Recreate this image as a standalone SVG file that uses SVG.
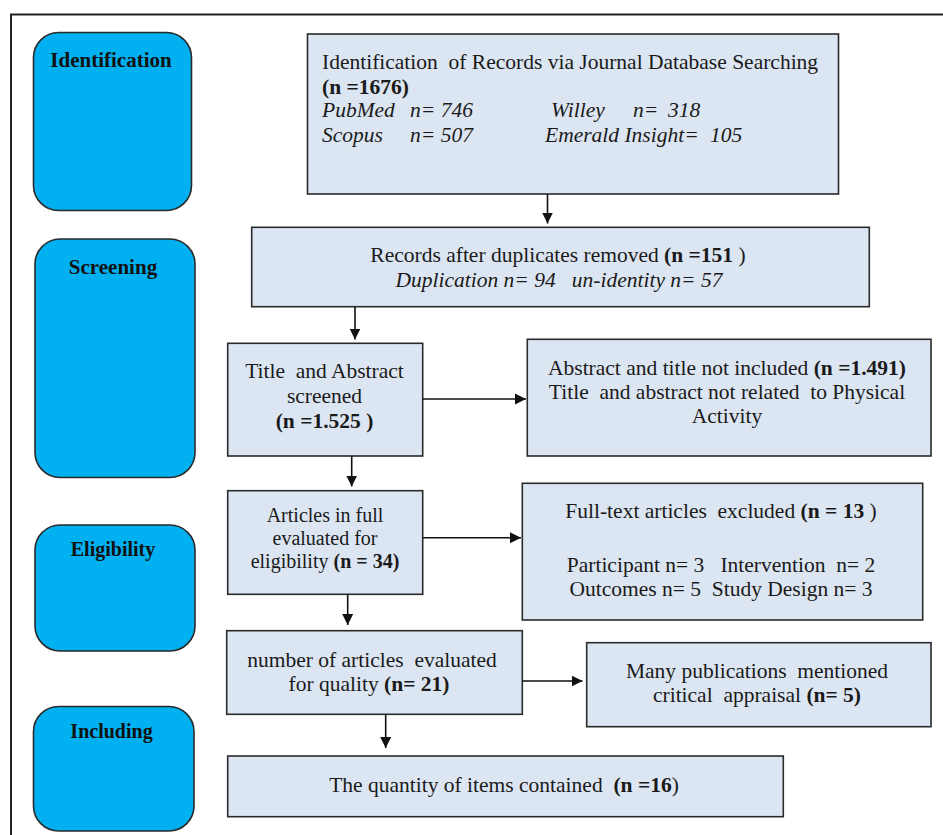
<svg xmlns="http://www.w3.org/2000/svg" width="943" height="835" viewBox="0 0 943 835">
<defs>
<style>
.stage{fill:#00B0F0;stroke:#2a2a2a;stroke-width:1.6}
.box{fill:#DCE6F2;stroke:#2a2a2a;stroke-width:1.6}
.lbl{font-family:"Liberation Serif","Times New Roman",serif;font-size:21px;font-weight:bold;fill:#111;text-anchor:middle}
.t{font-family:"Liberation Serif","Times New Roman",serif;font-size:21.5px;fill:#1a1a1a;white-space:pre}
.c{text-anchor:middle}
.i{font-style:italic}
.b{font-weight:bold}
.conn{stroke:#111;stroke-width:1.6;fill:none;marker-end:url(#ah)}
</style>
<marker id="ah" markerUnits="userSpaceOnUse" markerWidth="12" markerHeight="12" refX="11" refY="6" orient="auto">
<path d="M0,0.5 L11,6 L0,11.5 z" fill="#111"/>
</marker>
</defs>
<rect width="943" height="835" fill="#fff"/>
<path d="M11,835 V14.5 H943" fill="none" stroke="#222" stroke-width="2"/>

<g id="stage-identification">
<rect class="stage" x="33.5" y="32.5" width="158" height="178" rx="25"/>
<text class="lbl" x="111" y="67">Identification</text>
</g>
<g id="stage-screening">
<rect class="stage" x="35" y="239" width="160" height="238.5" rx="25"/>
<text class="lbl" x="113" y="274">Screening</text>
</g>
<g id="stage-eligibility">
<rect class="stage" x="35" y="525" width="160" height="126" rx="25"/>
<text class="lbl" x="113" y="556" style="font-size:20px">Eligibility</text>
</g>
<g id="stage-including">
<rect class="stage" x="33.5" y="706.5" width="160.5" height="124.5" rx="25"/>
<text class="lbl" x="111.5" y="738" style="font-size:20px">Including</text>
</g>

<g id="n-identification">
<rect class="box" x="307.5" y="34" width="531" height="160"/>
<text class="t" x="322" y="69" xml:space="preserve">Identification  of Records via Journal Database Searching</text>
<text class="t b" x="322" y="94">(n =1676)</text>
<text class="t i" y="117"><tspan x="322">PubMed</tspan><tspan x="410">n= 746</tspan><tspan x="551">Willey</tspan><tspan x="633">n=</tspan><tspan x="668">318</tspan></text>
<text class="t i" y="142"><tspan x="322">Scopus</tspan><tspan x="410">n= 507</tspan><tspan x="545">Emerald Insight=</tspan><tspan x="710">105</tspan></text>
</g>

<g id="n-records">
<rect class="box" x="251.7" y="227.3" width="617.6" height="79.4"/>
<text class="t c" x="558" y="262">Records after duplicates removed <tspan class="b">(n =151</tspan> )</text>
<text class="t c i" x="559" y="287" xml:space="preserve">Duplication n= 94   un-identity n= 57</text>
</g>

<g id="n-title">
<rect class="box" x="227.7" y="343.3" width="195" height="112.7"/>
<text class="t c" x="324.5" y="378" xml:space="preserve">Title  and Abstract</text>
<text class="t c" x="324.5" y="403">screened</text>
<text class="t c b" x="324.5" y="428">(n =1.525 )</text>
</g>

<g id="n-abstract-excl">
<rect class="box" x="527.3" y="339.3" width="403.7" height="116.7"/>
<text class="t c" x="727" y="375">Abstract and title not included <tspan class="b">(n =1.491)</tspan></text>
<text class="t c" x="727" y="399" xml:space="preserve">Title  and abstract not related  to Physical</text>
<text class="t c" x="727" y="423">Activity</text>
</g>

<g id="n-articles">
<rect class="box" x="227.7" y="490.7" width="195" height="103.6"/>
<text class="t c" x="325" y="522" style="font-size:20px">Articles in full</text>
<text class="t c" x="325" y="545" style="font-size:20px">evaluated for</text>
<text class="t c" x="325" y="568" style="font-size:20px">eligibility <tspan class="b">(n = 34)</tspan></text>
</g>

<g id="n-fulltext-excl">
<rect class="box" x="522.3" y="483.3" width="400.4" height="136.7"/>
<text class="t c" x="721" y="518" xml:space="preserve">Full-text articles  excluded <tspan class="b">(n = 13</tspan> )</text>
<text class="t c" x="721" y="572" xml:space="preserve">Participant n= 3   Intervention  n= 2</text>
<text class="t c" x="721" y="596" xml:space="preserve">Outcomes n= 5  Study Design n= 3</text>
</g>

<g id="n-quality">
<rect class="box" x="226.7" y="630.7" width="295.6" height="83.6"/>
<text class="t c" x="372" y="667" xml:space="preserve">number of articles  evaluated</text>
<text class="t c" x="369" y="691">for quality <tspan class="b">(n= 21)</tspan></text>
</g>

<g id="n-appraisal">
<rect class="box" x="586.7" y="642.7" width="344.3" height="84"/>
<text class="t c" x="757" y="678" xml:space="preserve">Many publications  mentioned</text>
<text class="t c" x="757" y="702" xml:space="preserve">critical  appraisal <tspan class="b">(n= 5)</tspan></text>
</g>

<g id="n-included">
<rect class="box" x="227.7" y="756" width="555.6" height="60.7"/>
<text class="t c" x="504" y="792" xml:space="preserve">The quantity of items contained  <tspan class="b">(n =16</tspan>)</text>
</g>

<g id="connectors">
<line class="conn" x1="547.5" y1="194" x2="547.5" y2="223.5"/>
<line class="conn" x1="355" y1="306.7" x2="355" y2="339.5"/>
<line class="conn" x1="422.7" y1="399" x2="526" y2="399"/>
<line class="conn" x1="351.7" y1="456" x2="351.7" y2="486.5"/>
<line class="conn" x1="422.7" y1="537.7" x2="521" y2="537.7"/>
<line class="conn" x1="347.7" y1="594.3" x2="347.7" y2="625"/>
<line class="conn" x1="522.3" y1="681" x2="582.5" y2="681"/>
<line class="conn" x1="385.7" y1="714.3" x2="385.7" y2="748"/>
</g>
</svg>
